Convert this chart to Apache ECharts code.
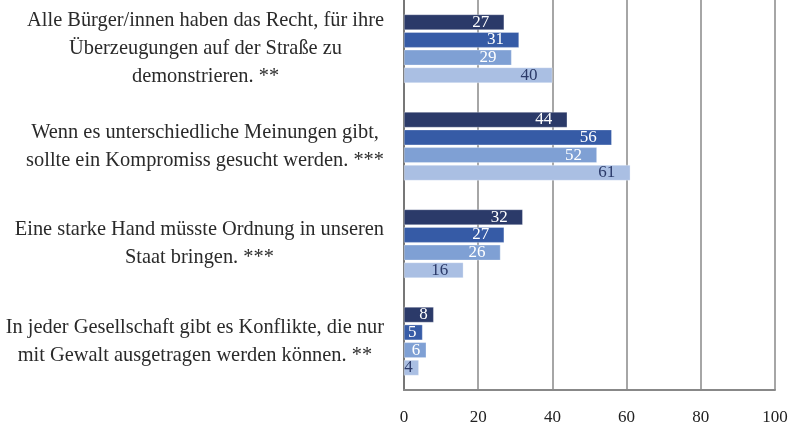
<!DOCTYPE html>
<html>
<head>
<meta charset="utf-8">
<script src="https://cdn.jsdelivr.net/npm/echarts@6/dist/echarts.min.js"></script>
<style>
  html, body { margin: 0; padding: 0; background: #fff; }
  #chart { width: 792px; height: 426px; }
</style>
</head>
<body>
<div id="chart"></div>
<script>
// Aussagen (Kategorien), von oben nach unten
const categories = [
  "Alle Bürger/innen haben das Recht, für ihre\nÜberzeugungen auf der Straße zu\ndemonstrieren. **",
  "Wenn es unterschiedliche Meinungen gibt,\nsollte ein Kompromiss gesucht werden. ***",
  "Eine starke Hand müsste Ordnung in unseren\nStaat bringen. ***",
  "In jeder Gesellschaft gibt es Konflikte, die nur\nmit Gewalt ausgetragen werden können. **"
];
// vier Gruppen, Balken von oben nach unten
const serie1 = [27, 44, 32, 8];
const serie2 = [31, 56, 27, 5];
const serie3 = [29, 52, 26, 6];
const serie4 = [40, 61, 16, 4];
const xTicks = [0, 20, 40, 60, 80, 100];

const colors = ["#2b3a69", "#365ba6", "#7fa0d4", "#aabfe3"];
const labelColors = ["#fff", "#fff", "#fff", "#2b3a69"];
const font = "'Liberation Serif', 'DejaVu Serif', serif";

const chart = echarts.init(document.getElementById("chart"));

function makeSeries(data, i) {
  return {
    type: "bar",
    // kurze Balken: Beschriftung näher am Balkenende
    data: data.map(function (v) {
      return v < 10 ? { value: v, label: { distance: 6 } } : v;
    }),
    barWidth: 15.5,
    barGap: "14%",
    barCategoryGap: "28%",
    itemStyle: { color: colors[i], borderColor: "rgba(255,255,255,0.6)", borderWidth: 0.5 },
    label: {
      show: true,
      position: "insideRight",
      distance: 15,
      color: labelColors[i],
      fontFamily: font,
      fontSize: 17
    }
  };
}

chart.setOption({
  animation: false,
  grid: { left: 404, right: 17, top: 0, bottom: 36 },
  xAxis: {
    type: "value",
    min: xTicks[0],
    max: xTicks[xTicks.length - 1],
    interval: 20,
    axisLine: { show: true, onZero: false, lineStyle: { color: "#888", width: 2 } },
    axisTick: { show: false },
    axisLabel: { color: "#222", fontFamily: font, fontSize: 17, margin: 19 },
    splitLine: { show: true, lineStyle: { color: "#888", width: 1.5 } }
  },
  yAxis: {
    type: "category",
    inverse: true,
    data: categories,
    axisLine: { show: true, lineStyle: { color: "#777", width: 2 } },
    axisTick: { show: false },
    axisLabel: {
      margin: 20,
      formatter: function (v) {
        return v.split("\n").map(function (s) { return "{a|" + s + "}"; }).join("\n");
      },
      rich: {
        a: { align: "center", color: "#2a2a2a", fontFamily: font, fontSize: 20.4, lineHeight: 28 }
      }
    }
  },
  series: [serie1, serie2, serie3, serie4].map(makeSeries)
});
</script>
</body>
</html>
